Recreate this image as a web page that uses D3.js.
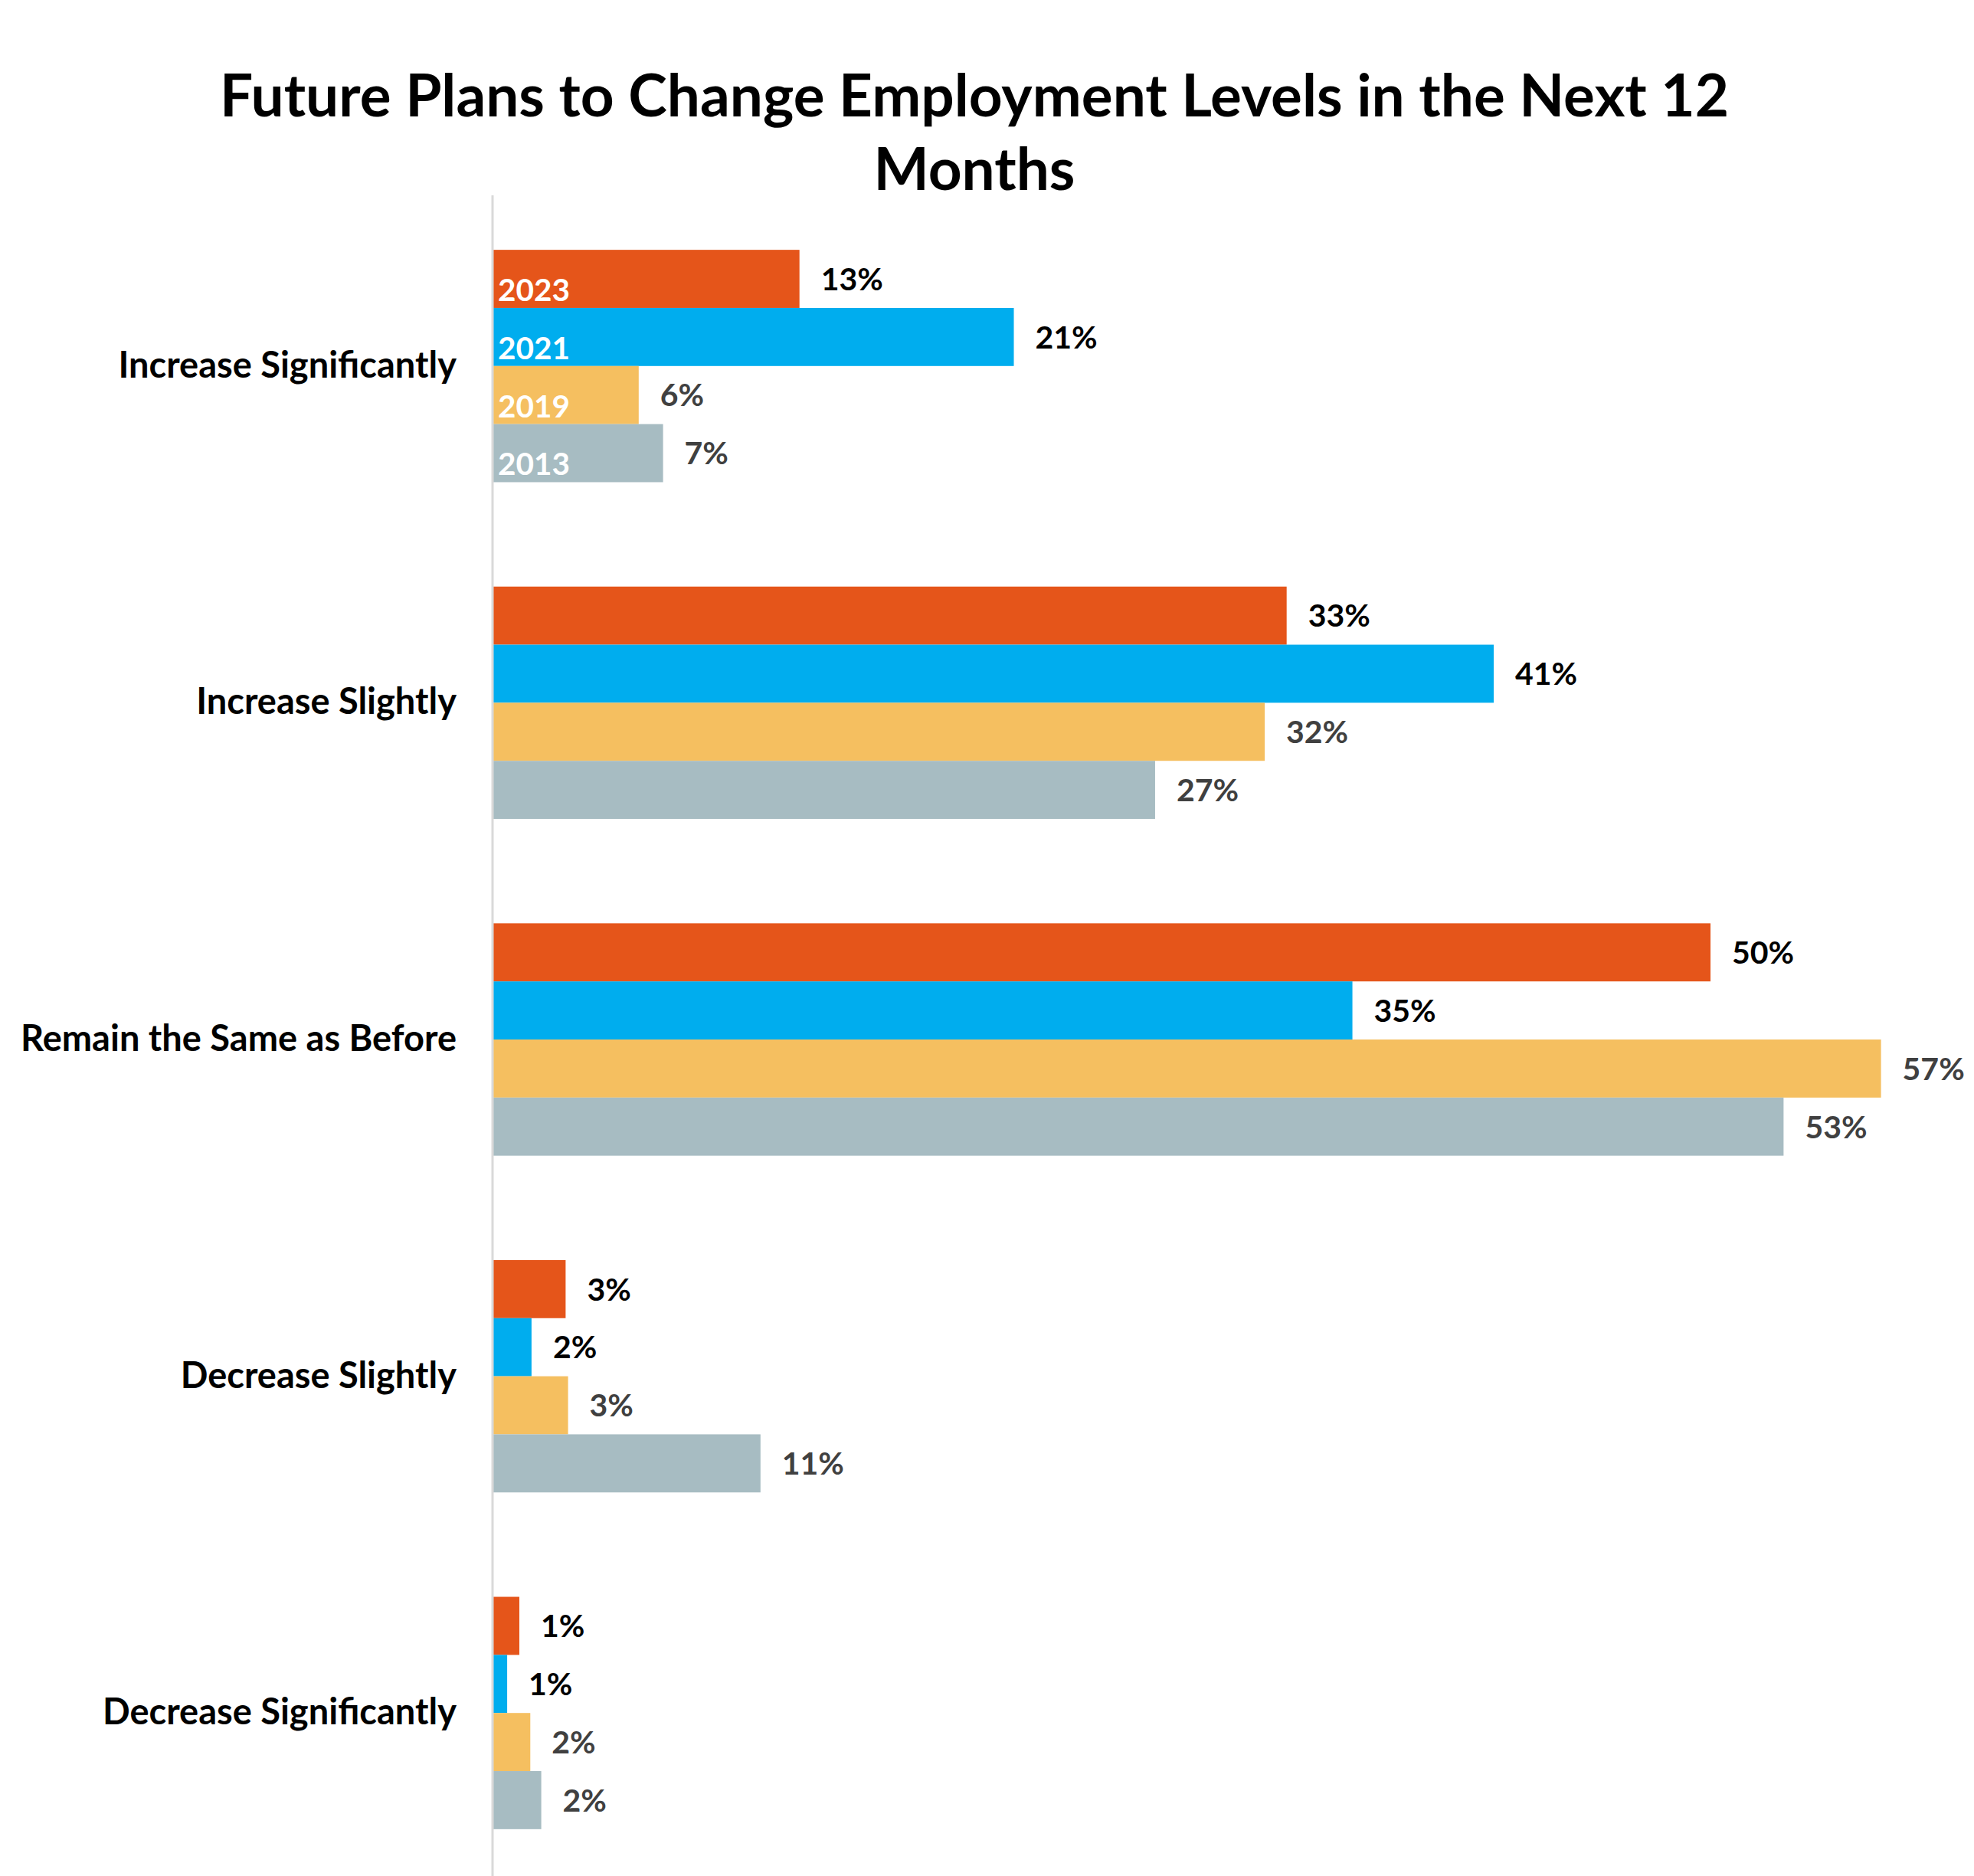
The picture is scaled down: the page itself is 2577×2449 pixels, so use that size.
<!DOCTYPE html>
<html>
<head>
<meta charset="utf-8">
<script src="https://cdn.jsdelivr.net/npm/d3@7/dist/d3.min.js"></script>
<style>
  html, body { margin: 0; padding: 0; background: #ffffff; }
  svg { display: block; }
  text { font-family: Lato, "Open Sans", sans-serif; font-weight: 700; }
</style>
</head>
<body>
<svg id="chart" width="2577" height="2449"></svg>
<script>
// ---- data ----
const titleLines = ["Future Plans to Change Employment Levels in the Next 12", "Months"];
const categories = ["Increase Significantly", "Increase Slightly", "Remain the Same as Before", "Decrease Slightly", "Decrease Significantly"];
const years = ["2023", "2021", "2019", "2013"];
const values2023 = [12.6, 32.6, 50.0, 3.0, 1.1];
const values2021 = [21.4, 41.1, 35.3, 1.6, 0.6];
const values2019 = [6.0, 31.7, 57.0, 3.1, 1.55];
const values2013 = [7.0, 27.2, 53.0, 11.0, 2.0];
const seriesValues = [values2023, values2021, values2019, values2013];
const seriesColors = ["#E5551A", "#00ADEE", "#F5BF60", "#A7BCC2"];
const labelColors = ["#000000", "#000000", "#404040", "#404040"];

// ---- layout ----
const W = 2577, H = 2449;
const svg = d3.select("#chart");
svg.append("rect").attr("width", W).attr("height", H).attr("fill", "#ffffff");

const x = d3.scaleLinear().domain([0, 60]).range([643, 643 + 60 * 31.8]);
const y = d3.scaleBand().domain(categories).range([258, 2456]).paddingInner(0.31).paddingOuter(0.155);
const y1 = d3.scaleBand().domain(years).range([0, y.bandwidth()]);

// title
svg.append("g").selectAll("text").data(titleLines).join("text")
  .attr("x", 1272)
  .attr("y", (d, i) => 152 + i * 96)
  .attr("text-anchor", "middle")
  .attr("font-size", 76.5)
  .attr("fill", "#000000")
  .text(d => d);

// bars
const rows = [];
categories.forEach((c, ci) => {
  years.forEach((yr, si) => {
    rows.push({ cat: c, year: yr, si: si, ci: ci, v: seriesValues[si][ci] });
  });
});

const g = svg.append("g");
g.selectAll("rect.bar").data(rows).join("rect")
  .attr("class", "bar")
  .attr("x", x(0))
  .attr("y", d => y(d.cat) + y1(d.year))
  .attr("width", d => x(d.v) - x(0))
  .attr("height", y1.bandwidth())
  .attr("fill", d => seriesColors[d.si]);

// value labels
g.selectAll("text.val").data(rows).join("text")
  .attr("class", "val")
  .attr("x", d => x(d.v) + 28)
  .attr("y", d => y(d.cat) + y1(d.year) + y1.bandwidth() / 2)
  .attr("dy", "0.36em")
  .attr("font-size", 41)
  .attr("fill", d => labelColors[d.si])
  .text(d => Math.round(d.v) + "%");

// series name labels inside first group
g.selectAll("text.yr").data(rows.filter(d => d.ci === 0)).join("text")
  .attr("class", "yr")
  .attr("x", x(0) + 7)
  .attr("y", d => y(d.cat) + y1(d.year) + y1.bandwidth() - 9)
  .attr("font-size", 40.5)
  .attr("fill", "#ffffff")
  .text(d => d.year);

// category axis
const axis = d3.axisLeft(y).tickSize(0).tickPadding(47);
const ag = svg.append("g").attr("transform", `translate(${x(0)},0)`).call(axis);
ag.select(".domain").remove();
ag.selectAll("text")
  .attr("font-size", 47)
  .attr("fill", "#000000")
  .style("font-family", "Lato, 'Open Sans', sans-serif")
  .style("font-weight", 700);

svg.append("line")
  .attr("x1", x(0)).attr("x2", x(0))
  .attr("y1", 255).attr("y2", H)
  .attr("stroke", "#D9D9D9").attr("stroke-width", 3);
</script>
</body>
</html>
